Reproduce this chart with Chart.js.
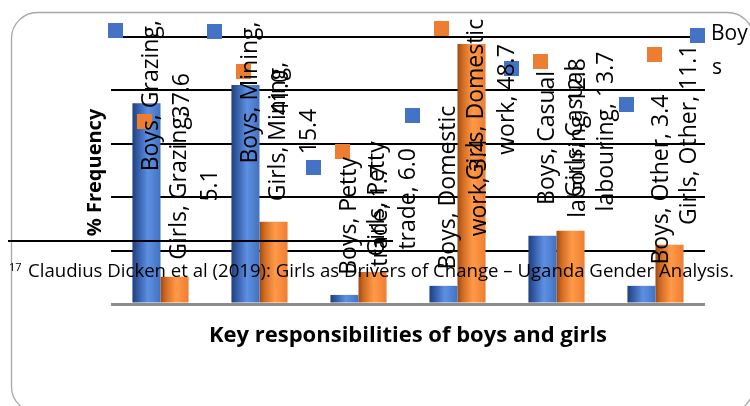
<!DOCTYPE html>
<html>
<head>
<meta charset="utf-8">
<script src="https://cdn.jsdelivr.net/npm/chart.js@4.4.1/dist/chart.umd.min.js"></script>
<style>
  html, body { margin: 0; padding: 0; background: #fff; }
  #wrap { width: 750px; height: 406px; position: relative; }
</style>
</head>
<body>
<div id="wrap"><canvas id="chart" width="750" height="406"></canvas></div>
<script>
// ---- data ----
const categories = ['Grazing', 'Mining', 'Petty trade', 'Domestic work', 'Casual labouring', 'Other'];
const seriesNames = ['Boys', 'Girls'];
const boysValues = [37.6, 41.0, 1.7, 3.4, 12.8, 3.4];
const girlsValues = [5.1, 15.4, 6.0, 48.7, 13.7, 11.1];
const yTickValues = [0, 10, 20, 30, 40, 50];

// ---- label layout (where each rotated data label sits, in axis units) ----
const boysLabelCenter = [39.0, 39.6, 16.5, 21.8, 31.1, 23.3];
const girlsLabelCenter = [22.2, 32.3, 19.7, 38.3, 32.3, 31.7];
// number of words kept on the first line of each label (0 = no wrap)
const boysLabelWrap = [2, 2, 2, 2, 2, 0];
const girlsLabelWrap = [2, 2, 2, 2, 2, 0];

const BLUE = '#4472c4';
const ORANGE = '#ed7d31';
const BLUE_STOPS = [[0, '#213f7a'], [0.18, '#3159a3'], [0.55, '#5d8fe2'], [0.8, '#4f80d0'], [1, '#4170c0']];
const ORANGE_STOPS = [[0, '#9c4a12'], [0.18, '#d06a22'], [0.55, '#ff9a48'], [0.8, '#f78a3a'], [1, '#ea7e33']];

const LABEL_FONT = '23px "Open Sans"';
const LINE_GAP = 31;

function barFill(ctx, stops, side) {
  const chart = ctx.chart;
  const area = chart.chartArea;
  const xs = chart.scales.x;
  if (!area || !xs || ctx.dataIndex === undefined) return stops[2][1];
  const cx = xs.getPixelForValue(ctx.dataIndex);
  const catW = area.width / categories.length;
  const w = catW * 0.567 / 2;
  const left = side === 0 ? cx - w : cx;
  const g = chart.ctx.createLinearGradient(left, 0, left + w, 0);
  stops.forEach(s => g.addColorStop(s[0], s[1]));
  return g;
}

function labelLines(series, cat, value, wrapWords) {
  const words = `${series}, ${cat}, ${value.toFixed(1)}`.split(' ');
  if (!wrapWords) return [words.join(' ')];
  return [words.slice(0, wrapWords).join(' '), words.slice(wrapWords).join(' ')];
}

const decorations = {
  id: 'decorations',
  afterDatasetsDraw(chart) {
    const ctx = chart.ctx;
    const ys = chart.scales.y;
    const layouts = [
      { vals: boysValues, centers: boysLabelCenter, wrap: boysLabelWrap, color: BLUE },
      { vals: girlsValues, centers: girlsLabelCenter, wrap: girlsLabelWrap, color: ORANGE }
    ];
    ctx.save();
    ctx.font = LABEL_FONT;
    const blocks = [];
    layouts.forEach((L, di) => {
      const meta = chart.getDatasetMeta(di);
      meta.data.forEach((bar, i) => {
        const lines = labelLines(seriesNames[di], categories[i], L.vals[i], L.wrap[i]);
        const n = lines.length;
        const cx = bar.x + 20;
        const cy = ys.getPixelForValue(L.centers[i]);
        const maxW = Math.max(...lines.map(t => ctx.measureText(t).width));
        const firstX = cx - (n - 1) / 2 * LINE_GAP;
        blocks.push({ lines, cx, cy, maxW, firstX, color: L.color });
      });
    });
    // legend keys of the labels
    blocks.forEach(b => {
      ctx.fillStyle = b.color;
      ctx.fillRect(Math.round(b.firstX - 35 - 7.5), Math.round(b.cy - b.maxW / 2 + 10 - 7.5), 15, 15);
    });
    // rotated label text
    ctx.fillStyle = '#000';
    ctx.textAlign = 'center';
    ctx.textBaseline = 'middle';
    blocks.forEach(b => {
      ctx.save();
      ctx.translate(b.cx, b.cy);
      ctx.rotate(-Math.PI / 2);
      b.lines.forEach((t, k) => {
        ctx.fillText(t, 0, (k - (b.lines.length - 1) / 2) * LINE_GAP);
      });
      ctx.restore();
    });
    ctx.restore();
  },
  afterDraw(chart) {
    const ctx = chart.ctx;
    const area = chart.chartArea;
    ctx.save();
    // outer rounded frame
    ctx.strokeStyle = '#a6a6a6';
    ctx.lineWidth = 1.3;
    ctx.beginPath();
    ctx.roundRect(11.5, 12.5, 742, 400, 26);
    ctx.stroke();

    // axis titles
    ctx.fillStyle = '#000';
    ctx.font = 'bold 20px "Open Sans"';
    ctx.textAlign = 'center';
    ctx.textBaseline = 'middle';
    ctx.save();
    ctx.translate(area.left - 16, (area.top + area.bottom) / 2 + 2);
    ctx.rotate(-Math.PI / 2);
    ctx.fillText('% Frequency', 0, 0);
    ctx.restore();
    ctx.font = 'bold 22px "Open Sans"';
    ctx.textBaseline = 'alphabetic';
    ctx.fillText('Key responsibilities of boys and girls', (area.left + area.right) / 2, area.bottom + 38);

    // legend
    ctx.fillStyle = BLUE;
    ctx.fillRect(area.right - 15, 28, 15, 15);
    ctx.fillStyle = '#000';
    ctx.font = '21px "Open Sans"';
    ctx.textAlign = 'left';
    ctx.fillText(seriesNames[0].slice(0, 3), area.right + 6, 40);
    ctx.fillText(seriesNames[0].slice(3), area.right + 7, 74);

    // footnote separator and footnote
    ctx.strokeStyle = '#000';
    ctx.lineWidth = 1.8;
    ctx.beginPath();
    ctx.moveTo(8, 241);
    ctx.lineTo(393, 241);
    ctx.stroke();
    ctx.font = '11px "Open Sans"';
    ctx.fillText('17', 9, 271);
    ctx.font = '18.6px "Open Sans"';
    ctx.fillText('Claudius Dicken et al (2019): Girls as Drivers of Change \u2013 Uganda Gender Analysis.', 28, 277);
    ctx.restore();
  }
};

new Chart(document.getElementById('chart'), {
  type: 'bar',
  data: {
    labels: categories,
    datasets: [
      { label: seriesNames[0], data: boysValues, backgroundColor: c => barFill(c, BLUE_STOPS, 0), borderWidth: 0 },
      { label: seriesNames[1], data: girlsValues, backgroundColor: c => barFill(c, ORANGE_STOPS, 1), borderWidth: 0 }
    ]
  },
  options: {
    responsive: false,
    animation: false,
    devicePixelRatio: 1,
    layout: { padding: { left: 111, right: 45, top: 37, bottom: 102 } },
    datasets: { bar: { categoryPercentage: 0.567, barPercentage: 1 } },
    plugins: { legend: { display: false }, tooltip: { enabled: false } },
    scales: {
      x: { display: false },
      y: {
        min: 0, max: 50,
        afterBuildTicks: s => { s.ticks = yTickValues.map(v => ({ value: v })); },
        ticks: { display: false },
        border: { display: false },
        grid: {
          drawTicks: false,
          color: c => (c.tick && c.tick.value === 0 ? '#8c8c8c' : '#000'),
          lineWidth: c => (c.tick && c.tick.value === 0 ? 3 : 2)
        }
      }
    }
  },
  plugins: [decorations]
});
</script>
</body>
</html>
